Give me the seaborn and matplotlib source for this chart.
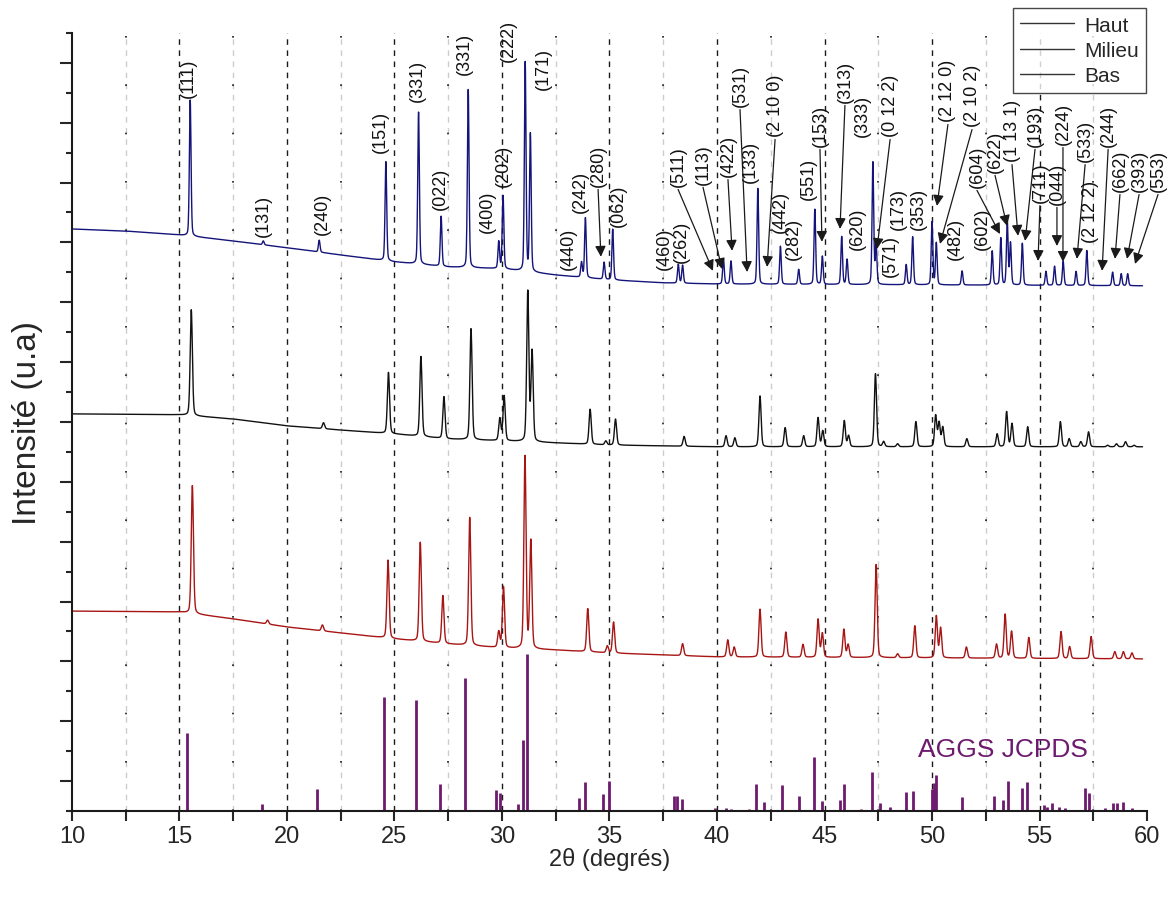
import numpy as np
import pandas as pd
import matplotlib
matplotlib.use('Agg')
import matplotlib.pyplot as plt
from matplotlib.ticker import MultipleLocator, FixedLocator
import seaborn as sns

# ---- data (2theta in degrees, intensity in u.a.) ----
# baselines of the three stacked patterns (offset included)
haut_base_x = [10, 12.5, 15, 17.5, 20, 22.5, 25, 27.5, 30, 32.5, 35, 37.5, 40, 60]
haut_base_y = [19.45, 19.38, 19.25, 19.05, 18.82, 18.58, 18.35, 18.18, 18.12, 17.91, 17.75, 17.65, 17.61, 17.55]
milieu_base_x = [10, 15, 17.5, 20, 22.5, 25, 27.5, 30, 32.5, 35, 40, 60]
milieu_base_y = [13.27, 13.24, 13.10, 12.87, 12.73, 12.60, 12.43, 12.37, 12.30, 12.23, 12.17, 12.17]
bas_base_x = [10, 15, 17.5, 20, 22.5, 25, 27.5, 30, 32.5, 35, 40, 60]
bas_base_y = [6.68, 6.65, 6.42, 6.15, 5.95, 5.75, 5.58, 5.45, 5.38, 5.28, 5.15, 5.08]

# peaks: position and height above the baseline
haut_pos = [15.50, 18.90, 21.50, 24.60, 26.12, 27.17, 28.43, 29.85, 30.05, 31.08, 31.32,
            33.70, 33.88, 34.75, 35.15, 38.20, 38.40, 40.30, 40.65, 41.90, 42.95, 43.80,
            44.55, 44.90, 45.80, 46.05, 47.25, 47.40, 48.80, 49.10, 50.00, 50.20, 51.40,
            52.80, 53.20, 53.50, 53.65, 54.20, 55.30, 55.70, 56.10, 56.70, 57.20, 58.40,
            58.80, 59.10]
haut_int = [4.55, 0.13, 0.40, 3.31, 5.08, 1.67, 5.95, 0.90, 2.44, 6.98, 4.60,
            0.50, 2.00, 0.57, 1.70, 0.63, 0.60, 0.84, 0.77, 3.20, 1.27, 0.50,
            2.51, 0.94, 1.60, 0.84, 4.08, 1.30, 0.67, 1.60, 2.10, 1.40, 0.47,
            1.14, 1.57, 2.14, 1.40, 1.40, 0.47, 0.64, 0.80, 0.47, 1.17, 0.45,
            0.40, 0.40]

milieu_pos = [15.55, 21.70, 24.72, 26.23, 27.30, 28.56, 29.90, 30.10, 31.20, 31.40,
              34.10, 34.83, 35.28, 38.47, 40.42, 40.83, 42.00, 43.17, 44.03, 44.70,
              44.92, 45.92, 46.12, 47.37, 47.75, 48.40, 49.25, 50.17, 50.33, 50.50,
              51.62, 53.03, 53.47, 53.72, 54.45, 55.97, 56.38, 56.92, 57.28, 58.17,
              58.58, 59.00, 59.40]
milieu_int = [3.54, 0.20, 2.04, 2.67, 1.40, 3.71, 0.74, 1.50, 5.01, 3.00,
              1.17, 0.13, 0.87, 0.33, 0.37, 0.30, 1.70, 0.64, 0.37, 0.97,
              0.53, 0.87, 0.37, 2.44, 0.17, 0.10, 0.84, 1.04, 0.80, 0.65,
              0.27, 0.43, 1.17, 0.77, 0.67, 0.84, 0.27, 0.17, 0.50, 0.05,
              0.10, 0.17, 0.05]

bas_pos = [15.60, 19.10, 21.65, 24.70, 26.20, 27.25, 28.50, 29.85, 30.07, 31.07, 31.34,
           33.99, 34.90, 35.19, 38.40, 40.50, 40.80, 42.00, 43.20, 44.00, 44.70, 44.90,
           45.90, 46.10, 47.40, 48.40, 49.20, 50.20, 50.40, 51.60, 53.00, 53.40, 53.70,
           54.50, 56.00, 56.40, 57.40, 58.50, 58.90, 59.30]
bas_int = [4.28, 0.13, 0.20, 2.61, 3.31, 1.60, 4.28, 0.53, 2.04, 6.42, 3.60,
           1.44, 0.23, 1.04, 0.40, 0.57, 0.33, 1.60, 0.84, 0.43, 1.27, 0.80,
           0.94, 0.43, 3.11, 0.13, 1.07, 1.40, 1.00, 0.37, 0.47, 1.47, 0.90,
           0.70, 0.90, 0.40, 0.74, 0.24, 0.24, 0.20]

# AGGS JCPDS reference lines
ref_pos = [15.33, 18.85, 21.40, 24.50, 26.00, 27.10, 28.30, 29.70, 29.90, 30.75, 31.00,
           31.15, 33.60, 33.85, 34.70, 35.00, 38.00, 38.15, 38.35, 39.90, 40.40, 40.65,
           41.50, 41.80, 42.20, 43.00, 43.80, 44.50, 44.90, 45.70, 45.90, 46.70, 47.20,
           47.60, 48.05, 48.80, 49.10, 50.00, 50.10, 50.20, 51.40, 52.90, 53.30, 53.55,
           54.20, 54.40, 55.20, 55.35, 55.60, 55.90, 56.20, 57.10, 57.30, 58.05, 58.40,
           58.60, 58.90, 59.30]
ref_int = [2.61, 0.23, 0.74, 3.81, 3.71, 0.90, 4.45, 0.70, 0.60, 0.23, 2.37,
           5.25, 0.44, 0.98, 0.57, 1.01, 0.50, 0.50, 0.41, 0.11, 0.11, 0.08,
           0.07, 0.91, 0.30, 0.87, 0.50, 1.80, 0.34, 0.37, 0.91, 0.07, 1.30,
           0.26, 0.14, 0.64, 0.67, 0.75, 0.95, 1.19, 0.46, 0.50, 0.37, 1.01,
           0.78, 0.98, 0.19, 0.14, 0.25, 0.14, 0.11, 0.78, 0.61, 0.11, 0.27,
           0.27, 0.30, 0.11]

# Miller index labels: text, x, y of text bottom, arrow tip (or None)
hkl_labels = [
    ('(111)', 15.40, 23.86, None), ('(131)', 18.88, 19.22, None),
    ('(240)', 21.63, 19.28, None), ('(151)', 24.33, 22.03, None),
    ('(331)', 26.05, 23.73, None), ('(022)', 27.12, 20.12, None),
    ('(331)', 28.23, 24.63, None), ('(400)', 29.30, 19.35, None),
    ('(202)', 30.05, 20.89, None), ('(222)', 30.28, 25.07, None),
    ('(171)', 31.91, 24.13, None), ('(440)', 33.07, 18.11, None),
    ('(242)', 33.63, 20.02, None), ('(280)', 34.47, 20.89, (34.60, 18.52)),
    ('(062)', 35.40, 19.55, None), ('(460)', 37.56, 18.11, None),
    ('(262)', 38.36, 18.35, None), ('(511)', 38.19, 20.89, (39.81, 18.05)),
    ('(113)', 39.35, 20.96, (40.23, 18.11)), ('(422)', 40.51, 21.22, (40.70, 18.72)),
    ('(531)', 41.07, 23.56, (41.40, 18.01)), ('(133)', 41.53, 21.02, None),
    ('(2 10 0)', 42.70, 22.56, (42.33, 18.18)), ('(442)', 42.93, 19.35, None),
    ('(282)', 43.53, 18.45, None), ('(551)', 44.23, 20.45, None),
    ('(153)', 44.79, 22.23, (44.88, 19.02)), ('(313)', 45.95, 23.70, (45.72, 19.45)),
    ('(333)', 46.74, 22.56, None), ('(620)', 46.51, 18.78, None),
    ('(0 12 2)', 48.05, 22.56, (47.44, 18.78)), ('(571)', 48.05, 17.88, None),
    ('(173)', 48.42, 19.45, None), ('(353)', 49.35, 19.45, None),
    ('(2 12 0)', 50.74, 23.06, (50.23, 20.22)), ('(2 10 2)', 51.86, 22.89, (50.37, 18.95)),
    ('(604)', 52.09, 20.86, (53.16, 19.28)), ('(482)', 51.07, 18.45, None),
    ('(602)', 52.33, 18.78, None), ('(622)', 52.93, 21.36, (53.49, 19.55)),
    ('(1 13 1)', 53.72, 21.72, (54.00, 19.22)), ('(193)', 54.79, 22.23, (54.33, 19.05)),
    ('(711)', 55.02, 20.35, (54.93, 18.38)), ('(044)', 55.81, 20.29, (55.81, 18.88)),
    ('(224)', 56.09, 22.29, (56.09, 18.35)), ('(533)', 57.12, 21.72, (56.74, 18.45)),
    ('(2 12 2)', 57.35, 19.02, None), ('(244)', 58.19, 22.23, (57.91, 18.05)),
    ('(662)', 58.74, 20.72, (58.51, 18.45)), ('(393)', 59.63, 20.72, (59.07, 18.45)),
    ('(553)', 60.51, 20.72, (59.44, 18.28)),
]


def pattern(x, base_x, base_y, pos, inten, fwhm):
    y = np.interp(x, base_x, base_y)
    for p, h in zip(pos, inten):
        g = np.exp(-4 * np.log(2) * ((x - p) / fwhm) ** 2)
        l = 1 / (1 + 4 * ((x - p) / fwhm) ** 2)
        y = y + h * (0.75 * g + 0.25 * l)
    return y


tt = np.arange(10, 59.8, 0.01)
df = pd.DataFrame({
    'tt': tt,
    'Haut': pattern(tt, haut_base_x, haut_base_y, haut_pos, haut_int, 0.09),
    'Milieu': pattern(tt, milieu_base_x, milieu_base_y, milieu_pos, milieu_int, 0.12),
    'Bas': pattern(tt, bas_base_x, bas_base_y, bas_pos, bas_int, 0.12),
})

sns.set_theme(style='white')
plt.rcParams['font.family'] = ['Liberation Sans', 'DejaVu Sans']

fig = plt.figure(figsize=(11.72, 9.03), dpi=100)
ax = fig.add_axes([0.0614, 0.1008, 0.9173, 0.8616])

# vertical guide lines
for gx in np.arange(12.5, 60, 5):
    ax.axvline(gx, color='#cccccc', lw=1, ls=(0, (4, 4)), zorder=0)
    ax.axvline(gx, color='k', lw=1.2, ls=(0, (1, 28)), zorder=0)
for gx in np.arange(15, 60, 5):
    ax.axvline(gx, color='k', lw=1, ls=(0, (4, 4)), zorder=0)

colors = {'Haut': '#14147a', 'Milieu': '#111111', 'Bas': '#a81515'}
for name in ['Haut', 'Milieu', 'Bas']:
    sns.lineplot(data=df, x='tt', y=name, ax=ax, color=colors[name], lw=1,
                 label=name, legend=False, estimator=None)

ax.vlines(ref_pos, 0, ref_int, color='#6e1a6e', lw=2)
ax.text(49.35, 2.07, 'AGGS JCPDS', color='#6e1a6e', fontsize=19, va='center', ha='left')

for lab, lx, ly, tip in hkl_labels:
    ax.text(lx, ly, lab, rotation=90, ha='center', va='bottom', fontsize=13, color='#111111')
    if tip is not None:
        ax.annotate('', xy=tip, xytext=(lx, ly - 0.12),
                    arrowprops=dict(arrowstyle='-|>', color='k', lw=0.9,
                                    mutation_scale=16, shrinkA=0, shrinkB=0))

ax.set_xlim(10, 60)
ax.set_ylim(0, 26)
ax.xaxis.set_major_locator(MultipleLocator(5))
ax.xaxis.set_minor_locator(MultipleLocator(2.5))
ax.yaxis.set_major_locator(FixedLocator(np.arange(1, 26, 2)))
ax.yaxis.set_minor_locator(FixedLocator(np.arange(0, 27, 2)))
ax.set_yticklabels([])
ax.tick_params(axis='x', which='both', direction='out', length=7, width=1.5,
               labelsize=17, bottom=True, pad=3)
ax.tick_params(axis='y', which='major', direction='out', length=9, width=1.5, left=True)
ax.tick_params(axis='y', which='minor', direction='out', length=4.5, width=1.5, left=True)
for s in ['top', 'right']:
    ax.spines[s].set_visible(False)
for s in ['left', 'bottom']:
    ax.spines[s].set_color('k')
    ax.spines[s].set_linewidth(1.5)

ax.set_xlabel('2\u03b8 (degrés)', fontsize=17, labelpad=0)
ax.set_ylabel('Intensité (u.a)', fontsize=24, labelpad=8)

leg = ax.legend(loc='upper right', bbox_to_anchor=(0.9995, 1.0315), fontsize=15,
                frameon=True, fancybox=False, handlelength=2.6, borderpad=0.35,
                labelspacing=0.3, handletextpad=0.5, borderaxespad=0)
leg.get_frame().set_edgecolor('k')
leg.get_frame().set_linewidth(1)
for h in leg.get_lines():
    h.set_color('#333333')

fig.savefig('out.png', dpi=100)
